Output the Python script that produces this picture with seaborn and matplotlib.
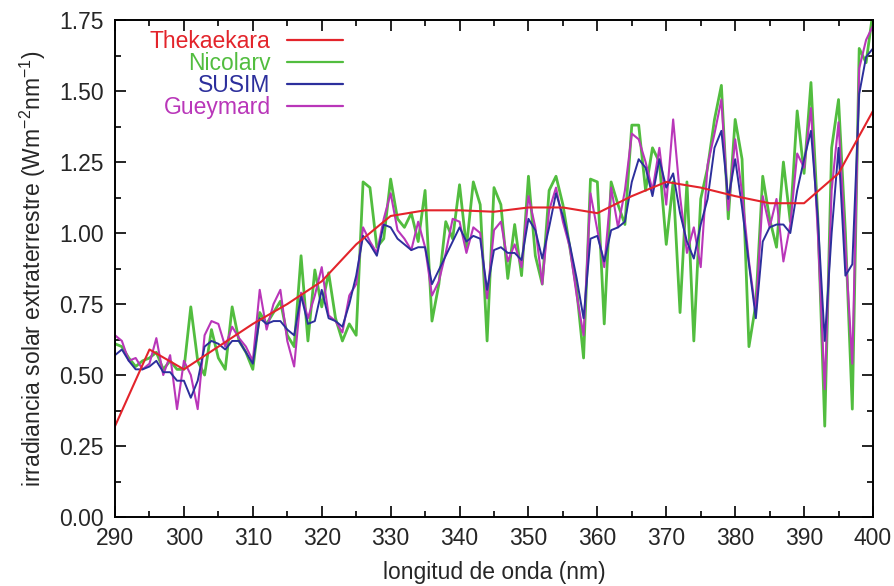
import numpy as np
import pandas as pd
import matplotlib
matplotlib.use("Agg")
import matplotlib.pyplot as plt
import seaborn as sns
from matplotlib.ticker import MultipleLocator, FormatStrFormatter
from matplotlib.lines import Line2D

# ---------------- data ----------------
wavelength = list(range(290, 401))

susim = [
    0.57, 0.59, 0.55, 0.52, 0.52, 0.53, 0.55, 0.51, 0.51, 0.48,
    0.48, 0.42, 0.48, 0.60, 0.62, 0.61, 0.59, 0.62, 0.62, 0.58,
    0.54, 0.70, 0.68, 0.69, 0.69, 0.66, 0.64, 0.78, 0.68, 0.69,
    0.80, 0.70, 0.69, 0.67, 0.75, 0.85, 0.99, 0.96, 0.92, 1.03,
    1.02, 0.98, 0.96, 0.94, 0.95, 0.95, 0.82, 0.87, 0.92, 0.97,
    1.02, 0.97, 0.99, 0.98, 0.80, 0.94, 0.95, 0.93, 0.93, 0.905,
    1.05, 1.01, 0.91, 1.02, 1.14, 1.06, 0.96, 0.84, 0.70, 0.98,
    0.99, 0.90, 1.01, 1.02, 1.04, 1.18, 1.26, 1.23, 1.13, 1.26,
    1.16, 1.21, 1.07, 0.97, 0.91, 1.03, 1.12, 1.30, 1.36, 1.12,
    1.26, 1.09, 0.89, 0.70, 0.97, 1.02, 1.03, 1.03, 1.00, 1.15,
    1.26, 1.36, 1.05, 0.62, 1.00, 1.30, 0.85, 0.89, 1.49, 1.62,
    1.65,
]

gueymard = [
    0.64, 0.62, 0.55, 0.56, 0.52, 0.54, 0.63, 0.50, 0.57, 0.38,
    0.55, 0.50, 0.38, 0.64, 0.69, 0.68, 0.60, 0.67, 0.63, 0.60,
    0.55, 0.80, 0.66, 0.75, 0.80, 0.62, 0.53, 0.79, 0.70, 0.78,
    0.88, 0.71, 0.69, 0.65, 0.78, 0.82, 1.02, 0.97, 0.93, 1.05,
    1.14, 1.01, 0.98, 0.94, 1.04, 0.95, 0.78, 0.83, 0.93, 1.05,
    1.04, 0.93, 1.02, 1.00, 0.77, 1.01, 1.04, 0.90, 0.96, 0.88,
    1.13, 1.02, 0.82, 1.08, 1.16, 1.04, 0.95, 0.78, 0.64, 1.14,
    1.01, 0.88, 1.16, 1.02, 1.15, 1.35, 1.33, 1.25, 1.15, 1.30,
    1.10, 1.40, 1.13, 0.93, 1.02, 0.88, 1.24, 1.35, 1.47, 1.08,
    1.33, 1.14, 0.90, 0.72, 1.13, 1.02, 1.12, 0.90, 1.03, 1.28,
    1.23, 1.44, 1.00, 0.45, 1.15, 1.39, 0.95, 0.54, 1.58, 1.68,
    1.73,
]

nicolarv = [
    0.61, 0.60, 0.56, 0.53, 0.55, 0.56, 0.58, 0.52, 0.55, 0.52,
    0.52, 0.74, 0.55, 0.50, 0.66, 0.56, 0.52, 0.74, 0.62, 0.58,
    0.52, 0.72, 0.68, 0.72, 0.76, 0.64, 0.60, 0.92, 0.62, 0.87,
    0.74, 0.86, 0.70, 0.62, 0.68, 0.64, 1.18, 1.16, 0.95, 0.98,
    1.19, 1.05, 1.02, 1.07, 0.97, 1.15, 0.69, 0.82, 1.04, 0.98,
    1.17, 0.95, 1.18, 1.10, 0.62, 1.16, 1.10, 0.84, 1.03, 0.85,
    1.20, 0.92, 0.82, 1.15, 1.20, 1.10, 0.95, 0.80, 0.56, 1.19,
    1.18, 0.68, 1.18, 1.10, 1.03, 1.38, 1.38, 1.15, 1.30, 1.25,
    0.96, 1.18, 0.72, 1.18, 0.62, 1.12, 1.23, 1.40, 1.52, 1.05,
    1.40, 1.26, 0.60, 0.75, 1.20, 1.05, 0.95, 1.25, 1.04, 1.43,
    1.21, 1.53, 1.05, 0.32, 1.30, 1.47, 1.00, 0.38, 1.65, 1.60,
    1.78,
]

thek_wavelength = [290, 295, 300, 305, 310, 315, 320, 325, 330, 335, 340, 345,
                   350, 355, 360, 365, 370, 375, 380, 385, 390, 395, 400]
thekaekara = [0.32, 0.59, 0.52, 0.60, 0.68, 0.75, 0.83, 0.96, 1.06, 1.08, 1.08, 1.075,
              1.09, 1.09, 1.07, 1.13, 1.18, 1.16, 1.13, 1.105, 1.105, 1.21, 1.43]

series_names = ["Thekaekara", "Nicolarv", "SUSIM", "Gueymard"]
colors = {"Thekaekara": "#e3242b", "Nicolarv": "#52bd3f",
          "SUSIM": "#2c2f9c", "Gueymard": "#b936b9"}

x_ticks = list(range(290, 401, 10))
y_ticks = [0.00, 0.25, 0.50, 0.75, 1.00, 1.25, 1.50, 1.75]

# ---------------- style ----------------
sns.set_style("ticks")
plt.rcParams['font.family'] = ['Liberation Sans', 'DejaVu Sans']
plt.rcParams['mathtext.fontset'] = 'custom'
plt.rcParams['mathtext.rm'] = 'Liberation Sans'
plt.rcParams['mathtext.it'] = 'Liberation Sans:italic'

fig = plt.figure(figsize=(8.95, 5.86), dpi=100)
ax = fig.add_axes([0.1285, 0.1177, 0.8469, 0.8481])

df_spec = pd.DataFrame({
    "wl": wavelength * 3,
    "irr": nicolarv + gueymard + susim,
    "serie": ["Nicolarv"] * len(wavelength) + ["Gueymard"] * len(wavelength) + ["SUSIM"] * len(wavelength),
})
df_thek = pd.DataFrame({"wl": thek_wavelength, "irr": thekaekara})

widths = {"Nicolarv": 2.0, "Gueymard": 1.5, "SUSIM": 1.4, "Thekaekara": 1.5}
for name in ["Nicolarv", "Gueymard", "SUSIM"]:
    sns.lineplot(data=df_spec[df_spec["serie"] == name], x="wl", y="irr",
                 color=colors[name], lw=widths[name], ax=ax, legend=False,
                 estimator=None, sort=False)
sns.lineplot(data=df_thek, x="wl", y="irr", color=colors["Thekaekara"],
             lw=widths["Thekaekara"], ax=ax, legend=False, estimator=None)

ax.set_xlim(290, 400)
ax.set_ylim(0, 1.75)
ax.set_xticks(x_ticks)
ax.set_yticks(y_ticks)
ax.xaxis.set_minor_locator(MultipleLocator(5))
ax.yaxis.set_minor_locator(MultipleLocator(0.125))
ax.yaxis.set_major_formatter(FormatStrFormatter('%.2f'))
ax.tick_params(which='both', direction='in', top=True, right=True,
               labelsize=16.5, color='black', width=1.2)
ax.tick_params(which='major', length=8)
ax.tick_params(which='minor', length=4)
ax.tick_params(axis='x', pad=7)
ax.tick_params(axis='y', pad=8)
for sp in ax.spines.values():
    sp.set_linewidth(1.4)
    sp.set_color('black')

ax.set_xlabel("longitud de onda (nm)", fontsize=16.5, labelpad=8)
ax.set_ylabel("irradiancia solar extraterrestre (Wm$^{-2}$nm$^{-1}$)", fontsize=16.5, labelpad=8)

handles = [Line2D([], [], color=colors[n], lw=1.6) for n in series_names]
leg = ax.legend(handles, series_names, loc='upper left', bbox_to_anchor=(0.046, 0.980),
                frameon=False, markerfirst=False, labelcolor='linecolor',
                fontsize=16.5, handlelength=2.45, handletextpad=0.7,
                labelspacing=-0.04, borderpad=0, borderaxespad=0)

fig.savefig("out.png", dpi=100)
